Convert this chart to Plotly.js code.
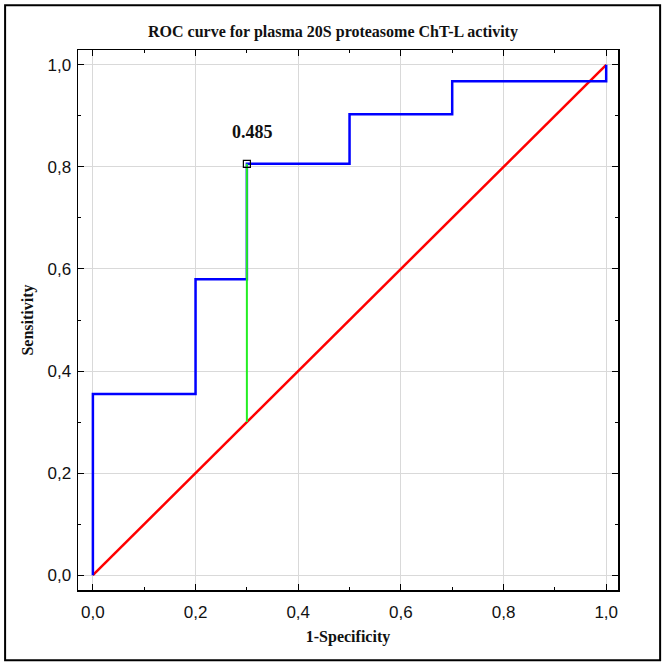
<!DOCTYPE html>
<html><head><meta charset="utf-8">
<script src="https://cdn.plot.ly/plotly-3.0.1.min.js"></script>
<style>body{margin:0;background:#fff}#c{width:666px;height:666px}</style>
</head><body><div id="c"></div>
<script>
const rocX = [0, 0, 0.2, 0.2, 0.3, 0.3, 0.5, 0.5, 0.7, 0.7, 1.0, 1.0];
const rocY = [0, 0.355, 0.355, 0.58, 0.58, 0.806, 0.806, 0.903, 0.903, 0.968, 0.968, 1.0];
const refX = [0, 1];
const refY = [0, 1];
const cutX = [0.3, 0.3];
const cutY = [0.3, 0.806];
const cutLabel = "0.485";
const tickVals = [0, 0.2, 0.4, 0.6, 0.8, 1.0];

const serif = "Liberation Serif, Times New Roman, serif";
const sans = "Liberation Sans, Arial, sans-serif";

const traces = [
  {x: refX, y: refY, mode: "lines", line: {color: "#ff0000", width: 2.5}, hoverinfo: "skip"},
  {x: rocX, y: rocY, mode: "lines", line: {color: "#0000ff", width: 2.5}, hoverinfo: "skip"},
  {x: cutX, y: cutY, mode: "lines", line: {color: "#22ee22", width: 2}, hoverinfo: "skip"},
  {x: [cutX[1]], y: [cutY[1]], mode: "markers", marker: {symbol: "square-open", size: 7, color: "#000", line: {width: 1.2}}, hoverinfo: "skip"}
];

const axisCommon = {
  tickvals: tickVals,
  tickformat: ".1f",
  showgrid: true, gridcolor: "#d9d9d9", gridwidth: 1,
  zeroline: false,
  showline: true, linecolor: "#000", linewidth: 1.5, mirror: "ticks",
  ticks: "inside", ticklen: 6, tickcolor: "#000", tickwidth: 1,
  minor: {dtick: 0.1, tick0: 0, ticks: "inside", ticklen: 3, tickcolor: "#000", showgrid: false},
  tickfont: {family: sans, size: 17, color: "#111"}
};

const layout = {
  width: 666, height: 666,
  margin: {l: 78, r: 48, t: 50, b: 76},
  paper_bgcolor: "#fff", plot_bgcolor: "#fff",
  separators: ",.",
  showlegend: false,
  title: {text: "ROC curve for plasma 20S proteasome ChT-L activity", font: {family: serif, size: 16, color: "#111", weight: "bold"}, x: 0.5, xanchor: "center", y: 0.953, yanchor: "middle"},
  xaxis: Object.assign({}, axisCommon, {range: [-0.029, 1.023], ticklabelstandoff: 6, title: {text: "1-Specificity", font: {family: serif, size: 16, color: "#111", weight: "bold"}, standoff: 10}}),
  yaxis: Object.assign({}, axisCommon, {range: [-0.029, 1.029], ticklabelstandoff: 2, title: {text: "Sensitivity", font: {family: serif, size: 16, color: "#111", weight: "bold"}, standoff: 10}}),
  annotations: [{x: cutX[1] + 0.01, y: cutY[1], xref: "x", yref: "y", text: cutLabel, showarrow: false, yshift: 32, font: {family: serif, size: 18, color: "#111", weight: "bold"}}],
  shapes: [{type: "rect", xref: "paper", yref: "paper", x0: -0.135, x1: 1.078, y0: -0.13, y1: 1.083, line: {color: "#000", width: 2}}]
};

Plotly.newPlot("c", traces, layout, {staticPlot: true, displayModeBar: false});
</script></body></html>
